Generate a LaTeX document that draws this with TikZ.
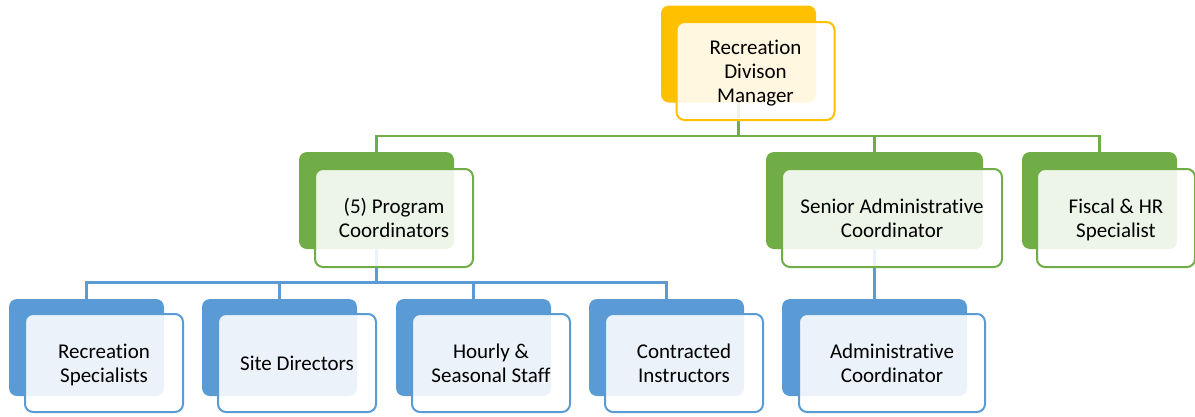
\documentclass[tikz,border=0pt]{standalone}
\usepackage{fontspec}
\setmainfont[Ligatures={NoCommon}]{Carlito}
\definecolor{cOrange}{HTML}{FFC000}
\definecolor{cGreen}{HTML}{70AD47}
\definecolor{cBlue}{HTML}{5B9BD5}
\pgfdeclarelayer{bg}
\pgfsetlayers{bg,main}
\tikzset{
  backbox/.style={draw=none, fill=#1, rounded corners=8pt, minimum width=155pt, minimum height=97pt, inner sep=0pt},
  frontbox/.style={draw=#1, line width=2pt, fill=white, fill opacity=0.88, draw opacity=1, text opacity=1,
    rounded corners=8pt, minimum width=158pt, minimum height=98pt, inner sep=0pt, align=center,
    text depth=0pt, font=\fontsize{21}{24}\selectfont, text=black},
  conn/.style={line width=2.2pt, draw=#1},
}
\begin{document}
\begin{tikzpicture}[x=1pt,y=-1pt]
\useasboundingbox (0,0) rectangle (1195,416);
% back boxes
\node[backbox=cOrange] (mgrb) at (738.5,54) {};
\node[backbox=cGreen] (progb) at (376.5,200.5) {};
\node[backbox=cGreen, minimum width=217pt] (senb) at (874.5,200.5) {};
\node[backbox=cGreen] (fisb) at (1099.5,200.5) {};
\node[backbox=cBlue] (rsb) at (86.5,347.5) {};
\node[backbox=cBlue] (sdb) at (279.5,347.5) {};
\node[backbox=cBlue] (hsb) at (473.5,347.5) {};
\node[backbox=cBlue] (cib) at (666.5,347.5) {};
\node[backbox=cBlue, minimum width=185pt] (admb) at (874.5,347.5) {};
% front boxes
\node[frontbox=cOrange] (mgr) at (755.5,71) {Recreation\\Divison\\Manager};
\node[frontbox=cGreen] (prog) at (394,218) {(5) Program\\Coordinators};
\node[frontbox=cGreen, minimum width=220pt] (sen) at (892,218) {Senior Administrative\\Coordinator};
\node[frontbox=cGreen] (fis) at (1116,218) {Fiscal \& HR\\Specialist};
\node[frontbox=cBlue] (rs) at (104,363) {Recreation\\Specialists};
\node[frontbox=cBlue] (sd) at (297,363) {Site Directors};
\node[frontbox=cBlue] (hs) at (491,363) {Hourly \&\\Seasonal Staff};
\node[frontbox=cBlue] (ci) at (684,363) {Contracted\\Instructors};
\node[frontbox=cBlue, minimum width=186pt] (adm) at (892,363) {Administrative\\Coordinator};
% connectors
\coordinate (gbus) at (0,136);
\coordinate (bbus) at (0,282.5);
\begin{pgfonlayer}{bg}
\draw[conn=cGreen] (mgrb.center) -- (mgrb.center |- gbus) -| (progb.center);
\draw[conn=cGreen] (mgrb.center) -- (mgrb.center |- gbus) -| (senb.center);
\draw[conn=cGreen] (mgrb.center) -- (mgrb.center |- gbus) -| (fisb.center);
\draw[conn=cBlue] (progb.center) -- (progb.center |- bbus) -| (rsb.center);
\draw[conn=cBlue] (progb.center) -- (progb.center |- bbus) -| (sdb.center);
\draw[conn=cBlue] (progb.center) -- (progb.center |- bbus) -| (hsb.center);
\draw[conn=cBlue] (progb.center) -- (progb.center |- bbus) -| (cib.center);
\draw[conn=cBlue] (senb.center) -- (admb.center);
\end{pgfonlayer}
\end{tikzpicture}
\end{document}
